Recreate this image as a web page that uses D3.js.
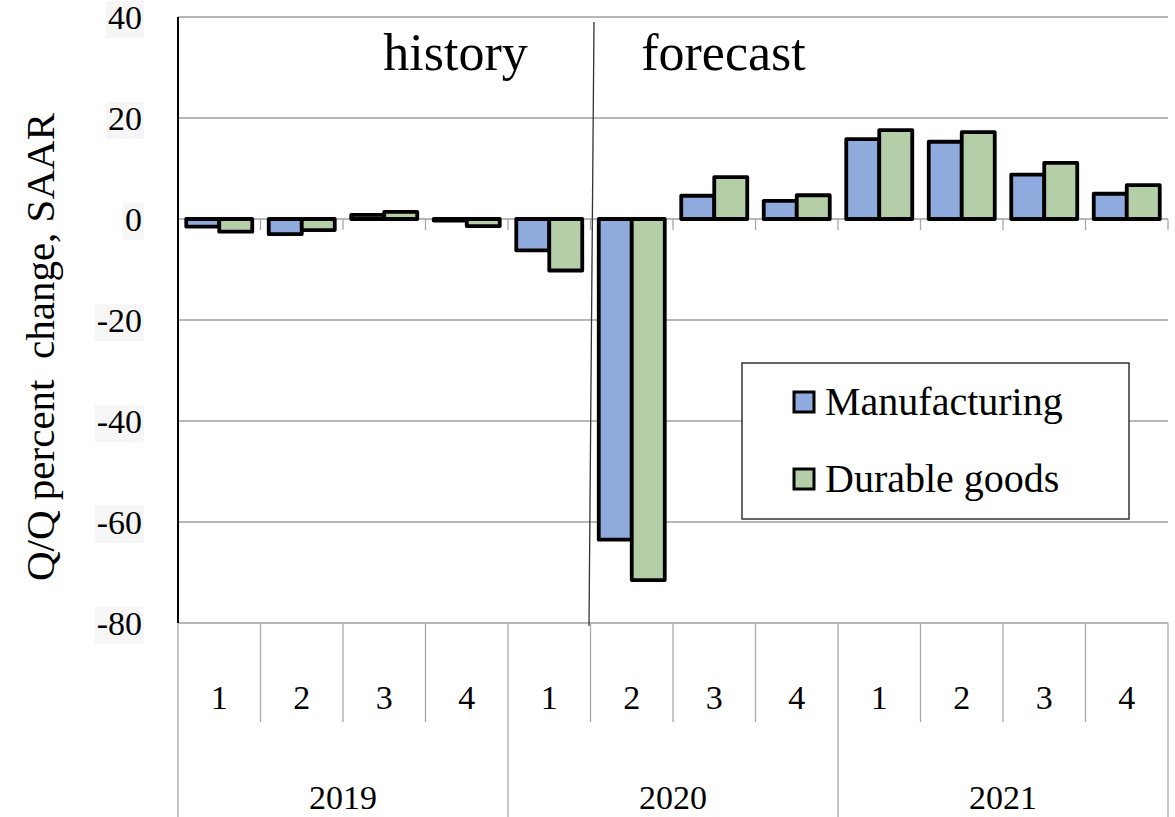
<!DOCTYPE html>
<html>
<head>
<meta charset="utf-8">
<script src="https://cdn.jsdelivr.net/npm/d3@7"></script>
<style>
  body { margin: 0; background: #fff; }
  text { font-family: "Palatino Linotype", "Book Antiqua", Palatino, "Liberation Serif", serif; fill: #000; }
</style>
</head>
<body>
<script>
// quarters and years on the category axis
var quarters = ["1", "2", "3", "4", "1", "2", "3", "4", "1", "2", "3", "4"];
var years = ["2019", "2020", "2021"];
var seriesNames = ["Manufacturing", "Durable goods"];
var manufacturing = [-1.5, -3.0, 0.8, -0.3, -6.2, -63.5, 4.6, 3.6, 15.8, 15.3, 8.8, 5.0];
var durableGoods = [-2.5, -2.2, 1.4, -1.4, -10.2, -71.5, 8.3, 4.7, 17.6, 17.2, 11.1, 6.7];
var yTicks = [40, 20, 0, -20, -40, -60, -80];
var colors = ["#8faadc", "#b4cfa8"];

var W = 1175, H = 817;
var plotLeft = 178, plotRight = 1168, plotTop = 17, plotBottom = 623;

var svg = d3.select("body").append("svg")
    .attr("width", W)
    .attr("height", H);

var x = d3.scaleBand()
    .domain(d3.range(quarters.length))
    .range([plotLeft, plotRight]);

var xs = d3.scaleBand()
    .domain(seriesNames)
    .range([0, x.bandwidth()])
    .paddingOuter(0.25);

var y = d3.scaleLinear()
    .domain([-80, 40])
    .range([plotBottom, plotTop]);

// gridlines
svg.append("g")
    .selectAll("line")
    .data(yTicks)
    .join("line")
    .attr("x1", plotLeft)
    .attr("x2", plotRight)
    .attr("y1", function(d) { return y(d); })
    .attr("y2", function(d) { return y(d); })
    .attr("stroke", "#a0a0a0")
    .attr("stroke-width", 1.3);

// small ticks under the zero line
svg.append("g")
    .selectAll("line")
    .data(d3.range(1, quarters.length + 1))
    .join("line")
    .attr("x1", function(d) { return plotLeft + d * x.step(); })
    .attr("x2", function(d) { return plotLeft + d * x.step(); })
    .attr("y1", y(0))
    .attr("y2", y(0) + 11)
    .attr("stroke", "#a8a8a8")
    .attr("stroke-width", 1.3);

// y tick labels with pale boxes
var yLab = svg.append("g");
yTicks.forEach(function(t) {
    var g = yLab.append("g");
    var txt = g.append("text")
        .attr("x", 142)
        .attr("y", y(t))
        .attr("dy", "0.35em")
        .attr("text-anchor", "end")
        .style("font-size", "34px")
        .text(t);
    var bb = txt.node().getBBox();
    g.insert("rect", "text")
        .attr("x", bb.x - 2)
        .attr("y", bb.y + 2)
        .attr("width", bb.width + 4)
        .attr("height", bb.height)
        .attr("fill", "#f6f6f6");
});

// y axis title
svg.append("text")
    .attr("transform", "translate(54,347) rotate(-90)")
    .attr("text-anchor", "middle")
    .style("font-size", "41px")
    .attr("xml:space", "preserve")
    .text("Q/Q percent  change, SAAR");

// bars
var rows = quarters.map(function(q, i) {
    return [manufacturing[i], durableGoods[i]];
});

var groups = svg.append("g")
    .selectAll("g")
    .data(rows)
    .join("g")
    .attr("transform", function(d, i) { return "translate(" + x(i) + ",0)"; });

groups.selectAll("rect")
    .data(function(d) { return d.map(function(v, k) { return { v: v, k: k }; }); })
    .join("rect")
    .attr("x", function(d) { return xs(seriesNames[d.k]); })
    .attr("width", xs.bandwidth())
    .attr("y", function(d) { return y(Math.max(0, d.v)); })
    .attr("height", function(d) { return Math.abs(y(d.v) - y(0)); })
    .attr("fill", function(d) { return colors[d.k]; })
    .attr("stroke", "#000")
    .attr("stroke-width", 3.8)
    .attr("stroke-linejoin", "round");

// left axis line
svg.append("line")
    .attr("x1", plotLeft).attr("x2", plotLeft)
    .attr("y1", plotTop).attr("y2", plotBottom)
    .attr("stroke", "#000")
    .attr("stroke-width", 2);

// history / forecast divider
var split = plotLeft + 5 * x.step();
svg.append("line")
    .attr("x1", split + 3.5).attr("y1", plotTop + 5)
    .attr("x2", split - 1.5).attr("y2", plotBottom + 3)
    .attr("stroke", "#333")
    .attr("stroke-width", 1.3);

svg.append("text")
    .attr("x", split - 135)
    .attr("y", 70)
    .attr("text-anchor", "middle")
    .style("font-size", "52px")
    .text("history");

svg.append("text")
    .attr("x", split + 133)
    .attr("y", 70)
    .attr("text-anchor", "middle")
    .style("font-size", "52px")
    .text("forecast");

// category axis
var catAxis = svg.append("g");
catAxis.selectAll("line.q")
    .data(d3.range(quarters.length + 1))
    .join("line")
    .attr("class", "q")
    .attr("x1", function(d) { return plotLeft + d * x.step(); })
    .attr("x2", function(d) { return plotLeft + d * x.step(); })
    .attr("y1", plotBottom)
    .attr("y2", function(d) { return d % 4 === 0 ? H : 722; })
    .attr("stroke", "#a8a8a8")
    .attr("stroke-width", 1.3);

catAxis.selectAll("text.q")
    .data(quarters)
    .join("text")
    .attr("class", "q")
    .attr("x", function(d, i) { return x(i) + x.bandwidth() / 2; })
    .attr("y", 709)
    .attr("text-anchor", "middle")
    .style("font-size", "34px")
    .text(function(d) { return d; });

catAxis.selectAll("text.yr")
    .data(years)
    .join("text")
    .attr("class", "yr")
    .attr("x", function(d, i) { return plotLeft + (i * 4 + 2) * x.step(); })
    .attr("y", 809)
    .attr("text-anchor", "middle")
    .style("font-size", "34px")
    .text(function(d) { return d; });

// legend
var legend = svg.append("g");
legend.append("rect")
    .attr("x", 742).attr("y", 363)
    .attr("width", 387).attr("height", 156)
    .attr("fill", "#fff")
    .attr("stroke", "#333")
    .attr("stroke-width", 1.5);

var item = legend.selectAll("g")
    .data(seriesNames)
    .join("g")
    .attr("transform", function(d, i) { return "translate(794," + (402 + i * 77) + ")"; });

item.append("rect")
    .attr("x", 0).attr("y", -10)
    .attr("width", 20).attr("height", 20)
    .attr("fill", function(d, i) { return colors[i]; })
    .attr("stroke", "#000")
    .attr("stroke-width", 3);

item.append("text")
    .attr("x", 31)
    .attr("y", 0)
    .attr("dy", "0.33em")
    .style("font-size", "40px")
    .text(function(d) { return d; });
</script>
</body>
</html>
